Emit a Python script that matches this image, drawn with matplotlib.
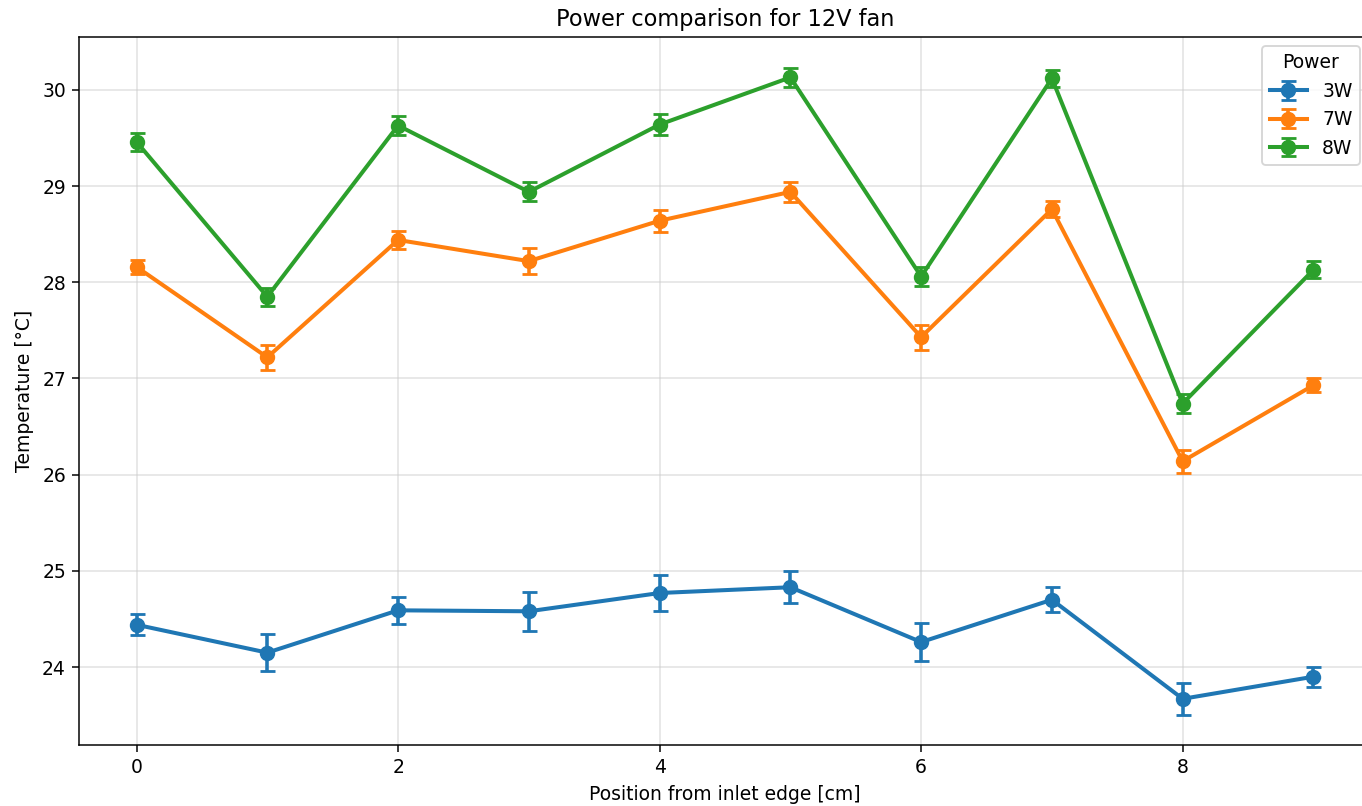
import matplotlib
matplotlib.use("Agg")
import matplotlib.pyplot as plt
import numpy as np

positions = [0, 1, 2, 3, 4, 5, 6, 7, 8, 9]
series_names = ["3W", "7W", "8W"]
temp_3w = [24.44, 24.15, 24.59, 24.58, 24.77, 24.83, 24.26, 24.70, 23.67, 23.90]
err_3w = [0.11, 0.19, 0.14, 0.20, 0.19, 0.165, 0.20, 0.13, 0.165, 0.105]
temp_7w = [28.16, 27.22, 28.44, 28.22, 28.64, 28.94, 27.43, 28.76, 26.14, 26.93]
err_7w = [0.075, 0.13, 0.097, 0.134, 0.114, 0.104, 0.13, 0.082, 0.121, 0.075]
temp_8w = [29.46, 27.85, 29.63, 28.94, 29.64, 30.13, 28.06, 30.12, 26.74, 28.13]
err_8w = [0.097, 0.092, 0.094, 0.10, 0.106, 0.095, 0.10, 0.087, 0.095, 0.09]
colors = ["#1f77b4", "#ff7f0e", "#2ca02c"]

DPI = 135
W, H = 1362, 806
fig = plt.figure(figsize=(W / DPI, H / DPI), dpi=DPI)
ax = fig.add_axes([79 / W, 1 - 745 / H, 1292 / W, (745 - 37) / H])

for name, vals, errs, c in zip(series_names, [temp_3w, temp_7w, temp_8w],
                               [err_3w, err_7w, err_8w], colors):
    ax.errorbar(positions, vals, yerr=errs, color=c, marker="o", markersize=7.2,
                linewidth=2.15, elinewidth=1.9, capsize=4.0, capthick=1.5,
                label=name)

ax.set_xlim(-0.44, 9.44)
ax.set_ylim(23.19, 30.55)
ax.set_xticks([0, 2, 4, 6, 8])
ax.set_yticks([24, 25, 26, 27, 28, 29, 30])
ax.grid(True, color="#cccccc", alpha=0.6, linewidth=0.8)
ax.set_axisbelow(True)
ax.set_title("Power comparison for 12V fan")
ax.set_xlabel("Position from inlet edge [cm]")
ax.set_ylabel("Temperature [°C]")
ax.legend(title="Power", loc="upper right", borderaxespad=0,
          bbox_to_anchor=(1360 / W, 1 - 46 / H), bbox_transform=fig.transFigure)

fig.savefig("out.png", dpi=DPI)
